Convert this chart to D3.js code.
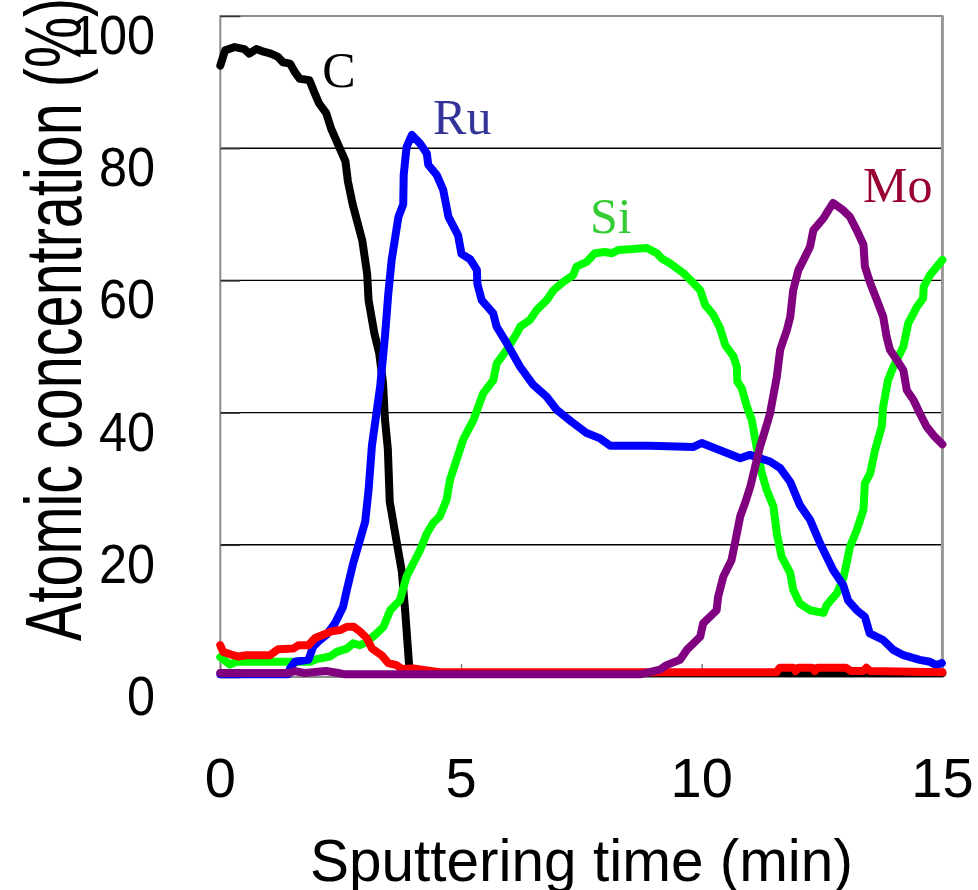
<!DOCTYPE html>
<html>
<head>
<meta charset="utf-8">
<script src="https://cdn.jsdelivr.net/npm/d3@7"></script>
<style>
  html, body { margin: 0; padding: 0; background: #fff; }
  svg { display: block; }
</style>
</head>
<body>
<svg id="chart" width="978" height="890"></svg>
<script>
// Depth profile: atomic concentration (%) vs sputtering time (min)
const xTicks = [0, 5, 10, 15];
const yTicks = [0, 20, 40, 60, 80, 100];

// [time (min), concentration (%)]
const carbon = [
  [0.0, 92.5], [0.1, 94.8], [0.3, 95.3], [0.5, 95.0], [0.6, 94.3], [0.75, 95.0],
  [0.9, 94.6], [1.05, 94.3], [1.2, 93.8], [1.3, 93.0], [1.45, 92.8], [1.55, 91.5],
  [1.65, 90.5], [1.85, 90.3], [1.95, 88.5], [2.05, 86.8], [2.2, 85.3], [2.3, 83.0],
  [2.45, 80.5], [2.6, 78.0], [2.65, 75.0], [2.75, 71.5], [2.95, 66.0], [3.05, 61.0],
  [3.08, 57.0], [3.2, 52.0], [3.3, 49.0], [3.38, 44.5], [3.42, 39.0], [3.48, 34.5],
  [3.52, 26.5], [3.65, 21.0], [3.77, 16.0], [3.84, 10.0], [3.9, 4.0], [3.93, 1.0],
  [4.0, 0.6], [8.0, 0.6], [11.5, 0.6], [13.5, 0.6], [15.0, 0.6]
];

const ruthenium = [
  [0.0, 0.4], [1.41, 0.4], [1.45, 1.3], [1.55, 2.3], [1.83, 2.6], [1.93, 4.6],
  [2.07, 5.6], [2.21, 6.4], [2.38, 8.1], [2.55, 10.6], [2.63, 13.2], [2.76, 17.2],
  [2.9, 20.7], [3.01, 23.5], [3.08, 28.3], [3.15, 35.0], [3.32, 43.9], [3.42, 51.5],
  [3.49, 58.0], [3.56, 63.1], [3.7, 69.6], [3.8, 71.5], [3.81, 76.0], [3.87, 80.2],
  [3.98, 82.0], [4.15, 80.7], [4.29, 79.2], [4.32, 77.5], [4.5, 75.9], [4.63, 73.7],
  [4.74, 69.6], [4.94, 66.8], [5.01, 64.0], [5.19, 63.2], [5.33, 61.6], [5.34, 59.5],
  [5.43, 57.0], [5.67, 55.0], [5.74, 53.0], [5.95, 50.5], [6.23, 46.9], [6.5, 44.2],
  [6.78, 42.4], [6.99, 40.4], [7.3, 38.6], [7.61, 36.9], [7.89, 36.1], [8.1, 35.0],
  [8.93, 35.0], [9.83, 34.8], [10.0, 35.4], [10.38, 34.3], [10.8, 33.1], [11.0, 33.6],
  [11.42, 32.6], [11.63, 31.6], [11.84, 29.5], [12.04, 26.0], [12.25, 23.8], [12.46, 20.2],
  [12.73, 16.2], [12.94, 13.9], [13.04, 11.6], [13.22, 10.1], [13.39, 9.1], [13.49, 6.6],
  [13.77, 5.6], [13.98, 4.1], [14.19, 3.3], [14.53, 2.6], [14.74, 2.3], [14.88, 1.8],
  [14.99, 2.1]
];

const silicon = [
  [0.0, 3.0], [0.2, 1.9], [0.34, 2.3], [1.86, 2.3], [2.0, 2.7], [2.28, 3.1],
  [2.42, 3.8], [2.63, 4.3], [2.76, 5.1], [2.9, 4.8], [3.04, 5.3], [3.25, 6.6],
  [3.39, 7.6], [3.53, 10.1], [3.73, 11.6], [3.87, 15.2], [4.01, 17.2], [4.15, 19.2],
  [4.29, 21.7], [4.42, 23.3], [4.56, 24.3], [4.7, 26.8], [4.77, 29.8], [5.05, 36.0],
  [5.26, 38.9], [5.46, 42.9], [5.67, 44.9], [5.74, 47.4], [5.95, 49.5], [6.16, 52.0],
  [6.23, 53.0], [6.43, 54.0], [6.57, 55.5], [6.78, 57.0], [6.92, 58.5], [7.13, 59.8],
  [7.33, 60.8], [7.4, 62.1], [7.61, 62.8], [7.78, 64.1], [7.99, 64.3], [8.13, 64.1],
  [8.27, 64.6], [8.86, 64.9], [9.07, 64.1], [9.17, 63.3], [9.34, 62.6], [9.62, 61.1],
  [9.76, 60.1], [9.97, 58.5], [10.07, 56.3], [10.24, 54.8], [10.38, 52.8], [10.49, 50.2],
  [10.66, 48.5], [10.73, 46.9], [10.74, 44.7], [10.83, 43.7], [10.94, 40.9], [11.04, 38.9],
  [11.14, 34.8], [11.25, 30.8], [11.35, 28.3], [11.49, 25.8], [11.56, 21.7], [11.66, 18.2],
  [11.84, 15.7], [11.9, 13.2], [12.04, 11.1], [12.25, 10.1], [12.53, 9.7], [12.6, 10.9],
  [12.81, 12.7], [12.94, 14.9], [13.01, 17.2], [13.08, 19.7], [13.22, 22.2], [13.36, 25.3],
  [13.39, 29.3], [13.5, 30.8], [13.6, 34.3], [13.74, 37.9], [13.77, 40.9], [13.87, 44.9],
  [13.98, 46.9], [14.19, 50.0], [14.29, 53.5], [14.47, 56.0], [14.6, 57.3], [14.61, 59.0],
  [14.74, 60.8], [15.0, 63.1]
];

const molybdenum = [
  [0.0, 0.6], [1.4, 0.6], [1.55, 0.9], [1.75, 0.6], [2.2, 0.9], [2.45, 0.6],
  [2.6, 0.4], [8.72, 0.4], [9.13, 1.1], [9.27, 1.8], [9.55, 2.6], [9.69, 4.1],
  [9.97, 6.1], [10.03, 8.1], [10.31, 10.1], [10.34, 12.1], [10.45, 15.2], [10.62, 17.7],
  [10.73, 21.7], [10.8, 24.3], [10.9, 26.3], [11.01, 28.8], [11.11, 31.8], [11.21, 34.8],
  [11.32, 37.4], [11.42, 39.9], [11.56, 45.4], [11.63, 49.5], [11.77, 52.5], [11.84, 54.5],
  [11.9, 58.5], [12.01, 61.6], [12.15, 63.6], [12.25, 65.1], [12.32, 67.6], [12.53, 69.4],
  [12.63, 70.6], [12.73, 71.7], [12.94, 70.6], [13.08, 69.6], [13.22, 67.6], [13.36, 65.4],
  [13.39, 62.1], [13.5, 59.6], [13.64, 57.0], [13.77, 54.5], [13.84, 51.5], [13.91, 49.5],
  [14.05, 48.0], [14.19, 46.4], [14.26, 43.4], [14.4, 41.9], [14.53, 39.9], [14.67, 37.9],
  [14.81, 36.6], [15.0, 35.2]
];

const oxygen = [
  [0.0, 4.8], [0.06, 3.8], [0.27, 3.3], [0.37, 3.1], [0.55, 3.3], [1.03, 3.3],
  [1.2, 4.2], [1.52, 4.3], [1.62, 4.8], [1.83, 4.8], [1.97, 5.9], [2.14, 6.4],
  [2.31, 6.9], [2.49, 7.1], [2.63, 7.6], [2.77, 7.6], [2.9, 6.9], [3.04, 5.9],
  [3.15, 4.3], [3.35, 3.3], [3.49, 2.1], [3.66, 1.8], [3.77, 1.2], [4.01, 1.3],
  [4.29, 1.0], [4.6, 0.7], [11.55, 0.7], [11.62, 1.4], [11.9, 1.4], [11.95, 0.9],
  [12.0, 1.4], [12.3, 1.4], [12.35, 0.9], [12.4, 1.4], [13.0, 1.4], [13.1, 0.9],
  [13.35, 0.9], [13.42, 1.4], [13.5, 0.9], [15.0, 0.7]
];

const seriesList = [
  { name: "C",  data: carbon,     color: "#000000" },
  { name: "Si", data: silicon,    color: "#00ff00" },
  { name: "Ru", data: ruthenium,  color: "#0000ff" },
  { name: "O",  data: oxygen,     color: "#ff0000" },
  { name: "Mo", data: molybdenum, color: "#800080" }
];

// In-plot element labels: [text, time, concentration, colour]
const labelText  = ["C", "Ru", "Si", "Mo"];
const labelTime  = [2.12, 4.42, 7.68, 13.35];
const labelConc  = [89.3, 82.1, 67.2, 71.9];
const labelColor = ["#000000", "#333399", "#33cc33", "#990033"];

const svg = d3.select("#chart");
const x = d3.scaleLinear().domain([0, 15]).range([220.3, 942.4]);
const y = d3.scaleLinear().domain([0, 100]).range([677, 16]);

// horizontal gridlines
svg.append("g")
  .selectAll("line")
  .data(yTicks.filter(d => d > 0 && d < 100))
  .join("line")
  .attr("x1", x(0)).attr("x2", x(15))
  .attr("y1", d => y(d)).attr("y2", d => y(d))
  .attr("stroke", "#000").attr("stroke-width", 1.4);

// plot frame
svg.append("rect")
  .attr("x", x(0)).attr("y", y(100))
  .attr("width", x(15) - x(0)).attr("height", y(0) - y(100))
  .attr("fill", "none").attr("stroke", "#8c8c8c").attr("stroke-width", 2);
svg.append("line")
  .attr("x1", x(15)).attr("x2", x(15)).attr("y1", y(100)).attr("y2", y(0))
  .attr("stroke", "#999").attr("stroke-width", 3);

// inward tick marks
const xAxis = d3.axisBottom(x).tickValues(xTicks).tickSize(-13).tickFormat("");
svg.append("g").attr("transform", `translate(0,${y(0)})`).call(xAxis)
  .call(g => g.select(".domain").remove())
  .call(g => g.selectAll(".tick line").attr("stroke", "#808080").attr("stroke-width", 1.5));
const yAxis = d3.axisLeft(y).tickValues(yTicks).tickSize(-20).tickFormat("");
svg.append("g").attr("transform", `translate(${x(0)},0)`).call(yAxis)
  .call(g => g.select(".domain").remove())
  .call(g => g.selectAll(".tick line").attr("stroke", "#333").attr("stroke-width", 1.5));

// profile lines
const line = d3.line().x(d => x(d[0])).y(d => y(d[1])).curve(d3.curveLinear);
svg.append("g")
  .selectAll("path")
  .data(seriesList)
  .join("path")
  .attr("d", d => line(d.data))
  .attr("fill", "none")
  .attr("stroke", d => d.color)
  .attr("stroke-width", 8)
  .attr("stroke-linejoin", "round")
  .attr("stroke-linecap", "round");

// element labels
svg.append("g")
  .selectAll("text")
  .data(labelText)
  .join("text")
  .attr("x", (d, i) => x(labelTime[i]))
  .attr("y", (d, i) => y(labelConc[i]))
  .attr("fill", (d, i) => labelColor[i])
  .attr("font-family", "'Liberation Serif', 'Times New Roman', serif")
  .attr("font-size", 50)
  .text(d => d);

// tick labels
const sans = "'Liberation Sans', Arial, sans-serif";
svg.append("g")
  .selectAll("text")
  .data(xTicks)
  .join("text")
  .attr("x", d => x(d))
  .attr("y", 797)
  .attr("text-anchor", "middle")
  .attr("font-family", sans)
  .attr("font-size", 56)
  .text(d => d);

svg.append("g")
  .selectAll("text")
  .data(yTicks)
  .join("text")
  .attr("transform", d => `translate(155,${y(d) + 38}) scale(0.9,1)`)
  .attr("text-anchor", "end")
  .attr("font-family", sans)
  .attr("font-size", 56)
  .text(d => d);

// axis titles
svg.append("text")
  .attr("transform", "translate(310,881) scale(0.975,1)")
  .attr("font-family", sans)
  .attr("font-size", 60)
  .text("Sputtering time (min)");

svg.append("text")
  .attr("transform", "translate(81,641) rotate(-90) scale(0.72,1)")
  .attr("font-family", sans)
  .attr("font-size", 80)
  .text("Atomic concentration (%)");
</script>
</body>
</html>
